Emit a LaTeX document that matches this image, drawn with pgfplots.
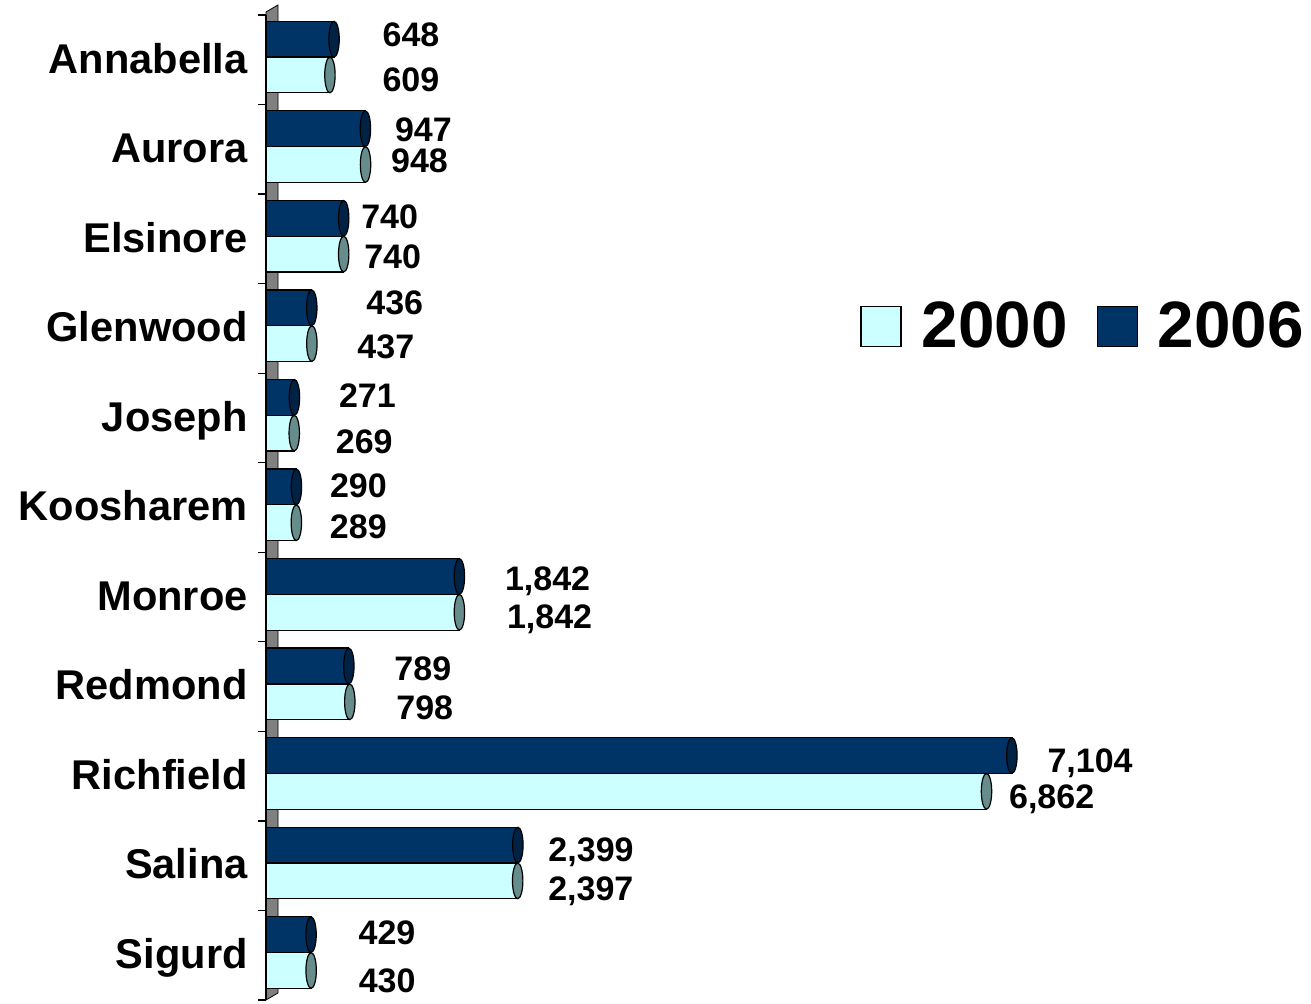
\documentclass[border=0pt]{standalone}
\usepackage{fontspec}
\setmainfont{Liberation Sans}
\usepackage{pgfplots}
\usepackage{pgfplotstable}
\pgfplotsset{compat=1.18}

\definecolor{navy}{HTML}{003366}
\definecolor{paleCyan}{HTML}{CCFFFF}
\definecolor{navyCap}{HTML}{002244}
\definecolor{cyanCap}{HTML}{668C8C}
\definecolor{wallgray}{HTML}{808080}

% rounded end of the cylinder bars
\pgfdeclareplotmark{cap}{%
  \pgfpathellipse{\pgfpointorigin}{\pgfpoint{2.6pt}{0pt}}{\pgfpoint{0pt}{8.9pt}}%
  \pgfusepathqfillstroke}

% c = category index, v = value, l = label, dx/ys = label offset (pt)
\pgfplotstableread{
c v06 l06 dx06 ys06 v00 l00 dx00 ys00
0 648 648 24 2.25 609 609 26 -2.25
1 947 947 14.5 -0.5 948 948 12.5 2
2 740 740 8.5 0.75 740 740 10 -1.25
3 436 436 27 3 437 437 22.5 -1.5
4 271 271 22 1.25 269 269 20.5 -4.25
5 290 290 16.5 1 289 289 16.5 -2
6 1842 1,842 22.5 -0.75 1842 1,842 23.5 -2.25
7 789 789 22.5 -1 798 798 23 -3
8 7104 7,104 17.5 -2.25 6862 6,862 11 -2.25
9 2399 2,399 15 -2 2397 2,397 15 -3.5
10 429 429 23.5 1.25 430 430 23.5 -4.75
}\popdata

\begin{document}
\begin{tikzpicture}
\useasboundingbox (0,0) rectangle (655.5pt,502pt);
% grey wall behind the bars
\path[fill=wallgray, draw=black, line width=0.4pt]
  (133pt,2pt) -- (133pt,496pt) -- (139pt,499.5pt) -- (139pt,5.5pt) -- cycle;
\begin{axis}[
  at={(133pt,2pt)}, anchor=south west,
  scale only axis, width=472.5pt, height=492.5pt,
  clip=false,
  xbar, bar width=0.4,
  xmin=0, xmax=9000, ymin=-0.5, ymax=10.5, y dir=reverse,
  axis x line=none, axis y line*=left,
  y axis line style={black, line width=0.6pt},
  ytick={0,...,10},
  yticklabels={Annabella,Aurora,Elsinore,Glenwood,Joseph,Koosharem,Monroe,Redmond,Richfield,Salina,Sigurd},
  minor ytick={-0.5,0.5,...,10.5},
  major tick length=0pt, minor tick length=4pt, tick align=outside,
  minor tick style={black, line width=0.6pt},
  yticklabel style={font=\fontsize{20.8}{24}\selectfont\bfseries, inner sep=0pt,
    text height=14.9pt, text depth=0pt, anchor=east, xshift=-9pt, yshift=0.8pt},
  every node near coord/.style={anchor=west, inner sep=0pt,
    font=\fontsize{17}{20}\selectfont\bfseries, text height=12.2pt, text depth=0pt,
    xshift=\dx pt, yshift=\ys pt, black},
  legend columns=2,
  legend style={at={(0.6286,0.684)}, anchor=west, draw=none, fill=none,
    inner sep=0pt, font=\fontsize{32.8}{36}\selectfont\bfseries,
    nodes={inner sep=0pt},
    /tikz/every odd column/.append style={column sep=10pt},
    /tikz/every even column/.append style={column sep=14.5pt}},
  legend image code/.code={\draw[#1, draw=black, line width=0.6pt] (0pt,-10pt) rectangle (20pt,10pt);},
]
\addplot[fill=paleCyan, draw=black, line width=0.6pt, bar shift=0.17,
  point meta=explicit symbolic, nodes near coords,
  every node near coord/.append style={yshift=-7.6pt},
  visualization depends on={\thisrow{dx00} \as \dx},
  visualization depends on={\thisrow{ys00} \as \ys}]
  table[x=v00, y=c, meta=l00] {\popdata};
\addlegendentry{2000}

\addplot[fill=navy, draw=black, line width=0.6pt, bar shift=-0.23,
  point meta=explicit symbolic, nodes near coords,
  every node near coord/.append style={yshift=10.3pt},
  visualization depends on={\thisrow{dx06} \as \dx},
  visualization depends on={\thisrow{ys06} \as \ys}]
  table[x=v06, y=c, meta=l06] {\popdata};
\addlegendentry{2006}

% cylinder caps at the bar ends
\addplot[forget plot, only marks, mark=cap, mark options={fill=cyanCap, draw=black, line width=0.6pt}]
  table[x=v00, y expr=\thisrow{c}+0.17] {\popdata};
\addplot[forget plot, only marks, mark=cap, mark options={fill=navyCap, draw=black, line width=0.6pt}]
  table[x=v06, y expr=\thisrow{c}-0.23] {\popdata};
\end{axis}
\end{tikzpicture}
\end{document}
